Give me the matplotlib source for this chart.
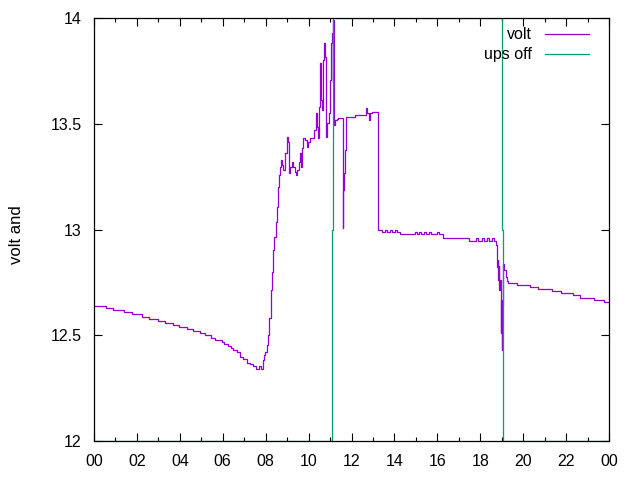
import matplotlib
matplotlib.use("Agg")
import matplotlib.pyplot as plt
from matplotlib.ticker import FixedLocator, FixedFormatter, MultipleLocator

plt.rcParams['font.family'] = ['Liberation Sans', 'DejaVu Sans']

# time of day in hours, battery voltage (stepwise samples)
volt_t = [0.000, 0.559, 0.899, 1.412, 1.757, 2.237, 2.577, 2.983, 3.323, 3.696,
          3.975, 4.348, 4.628, 4.940, 5.173, 5.439, 5.639, 5.951, 6.058, 6.259,
          6.371, 6.492, 6.650, 6.804, 6.958, 7.116, 7.270, 7.424, 7.550, 7.703,
          7.769, 7.862, 7.923, 7.983, 8.048, 8.109, 8.170, 8.235, 8.295, 8.356,
          8.402, 8.468, 8.514, 8.561, 8.622, 8.668, 8.715, 8.775, 8.822, 8.901,
          8.980, 9.027, 9.088, 9.134, 9.213, 9.288, 9.367, 9.414, 9.474, 9.554,
          9.600, 9.647, 9.707, 9.754, 9.833, 9.912, 9.987, 10.066, 10.173, 10.253,
          10.332, 10.378, 10.425, 10.485, 10.532, 10.579, 10.639, 10.686, 10.733, 10.779,
          10.826, 10.873, 10.938, 10.998, 11.059, 11.106, 11.129, 11.152, 11.185, 11.231,
          11.311, 11.371, 11.590, 11.627, 11.651, 11.697, 11.730, 12.163, 12.662, 12.722,
          12.815, 12.862, 12.955, 13.221, 13.249, 13.422, 13.561, 13.654, 13.794, 13.887,
          14.027, 14.120, 14.260, 14.959, 15.053, 15.146, 15.239, 15.379, 15.472, 15.612,
          15.705, 15.985, 16.078, 16.264, 17.476, 17.802, 17.896, 18.082, 18.175, 18.315,
          18.408, 18.548, 18.641, 18.720, 18.767, 18.814, 18.827, 18.860, 18.888, 18.921,
          18.967, 18.981, 19.000, 19.028, 19.074, 19.121, 19.186, 19.247, 19.293, 19.713,
          20.319, 20.691, 21.330, 21.763, 22.309, 22.649, 23.301, 23.767, 24.000]
volt_v = [12.638, 12.627, 12.618, 12.609, 12.599, 12.585, 12.575, 12.566, 12.557, 12.547,
          12.538, 12.528, 12.519, 12.509, 12.500, 12.486, 12.476, 12.467, 12.457, 12.448,
          12.438, 12.429, 12.419, 12.399, 12.386, 12.370, 12.364, 12.355, 12.342, 12.355,
          12.342, 12.383, 12.407, 12.422, 12.454, 12.501, 12.580, 12.714, 12.799, 12.903,
          12.965, 13.035, 13.106, 13.201, 13.258, 13.296, 13.329, 13.305, 13.281, 13.362,
          13.437, 13.414, 13.267, 13.296, 13.319, 13.296, 13.272, 13.258, 13.281, 13.319,
          13.362, 13.296, 13.385, 13.433, 13.423, 13.390, 13.414, 13.433, 13.433, 13.470,
          13.551, 13.485, 13.433, 13.579, 13.787, 13.612, 13.565, 13.801, 13.882, 13.816,
          13.437, 13.504, 13.551, 13.707, 13.882, 13.929, 13.697, 13.991, 13.494, 13.518,
          13.522, 13.527, 13.007, 13.187, 13.267, 13.376, 13.532, 13.541, 13.574, 13.551,
          13.518, 13.551, 13.556, 13.281, 12.998, 12.988, 12.998, 12.988, 12.998, 12.988,
          12.998, 12.988, 12.979, 12.988, 12.979, 12.988, 12.979, 12.988, 12.979, 12.988,
          12.979, 12.988, 12.979, 12.960, 12.946, 12.960, 12.946, 12.960, 12.946, 12.960,
          12.946, 12.960, 12.946, 12.927, 12.824, 12.856, 12.761, 12.827, 12.714, 12.761,
          12.511, 12.667, 12.430, 12.643, 12.837, 12.809, 12.775, 12.757, 12.747, 12.738,
          12.730, 12.719, 12.711, 12.700, 12.690, 12.676, 12.667, 12.656, 12.656]

# UPS-off indicator (12 = on, 14 = off)
ups_t = [0.0, 11.10, 11.15, 19.03, 19.07, 24.0]
ups_v = [12.0, 13.0, 14.0, 13.0, 12.0, 12.0]

xtick_pos = [0, 2, 4, 6, 8, 10, 12, 14, 16, 18, 20, 22, 24]
xtick_lab = ["00", "02", "04", "06", "08", "10", "12", "14", "16", "18", "20", "22", "00"]
ytick_pos = [12, 12.5, 13, 13.5, 14]
ytick_lab = ["12", "12.5", "13", "13.5", "14"]

fig = plt.figure(figsize=(6.4, 4.8), dpi=100)
ax = fig.add_axes([94/640, 1-441/480, (609-94)/640, (441-18)/480])

ax.plot(volt_t, volt_v, color='#9400D3', lw=0.9, drawstyle='steps-post', label='volt', zorder=2)
ax.plot(ups_t, ups_v, color='#009E73', lw=0.9, drawstyle='steps-post', label='ups off', zorder=2.1)

ax.set_xlim(0, 24)
ax.set_ylim(12, 14)
ax.xaxis.set_major_locator(FixedLocator(xtick_pos))
ax.xaxis.set_major_formatter(FixedFormatter(xtick_lab))
ax.xaxis.set_minor_locator(MultipleLocator(1))
ax.yaxis.set_major_locator(FixedLocator(ytick_pos))
ax.yaxis.set_major_formatter(FixedFormatter(ytick_lab))

ax.tick_params(which='both', direction='in', top=True, right=True, width=0.8, labelsize=11.5, colors='black')
ax.tick_params(which='major', length=6, pad=9)
ax.tick_params(which='minor', length=3)
for s in ax.spines.values():
    s.set_linewidth(0.9)
    s.set_zorder(3)

ax.set_ylabel('volt and', fontsize=12)
ax.yaxis.set_label_coords((24 - 94) / 515, (441 - 235) / 423)

leg = ax.legend(loc='upper right', frameon=False, fontsize=11.5, markerfirst=False,
                handlelength=2.75, handletextpad=0.8, borderaxespad=0, borderpad=0,
                labelspacing=0.31, bbox_to_anchor=((589 - 94) / 515, 0.978))
for t in leg.get_texts():
    t.set_ha('right')

fig.savefig('out.png', dpi=100)
